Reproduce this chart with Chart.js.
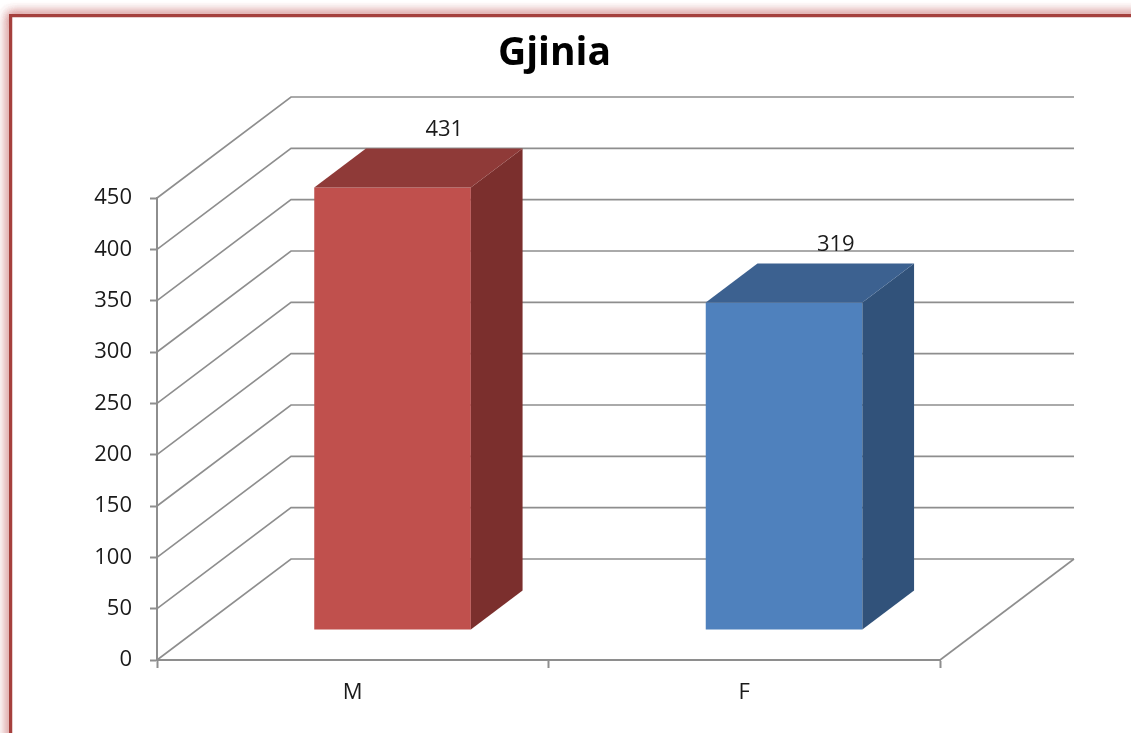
<!DOCTYPE html>
<html>
<head>
<meta charset="utf-8">
<title>Gjinia</title>
<script src="https://cdn.jsdelivr.net/npm/chart.js@4.4.0/dist/chart.umd.min.js"></script>
<style>
  html, body { margin: 0; padding: 0; background: #fff; overflow: hidden; }
  canvas { display: block; }
</style>
</head>
<body>
<canvas id="gjiniaChart" width="1131" height="733"></canvas>
<script>
var categories = ['M', 'F'];
var counts = [431, 319];
var yMin = 0;
var yMax = 450;
var yStep = 50;

var frontColors = ['#C0504D', '#4F81BD'];
var topColors = ['#8F3A38', '#3C6190'];
var sideColors = ['#7B2F2D', '#31527A'];
var gridColor = '#8e8e8e';

// 3d look: depth of the floor and where the bars sit inside it
var depth = { x: 134, y: -101 };
var barFront = 0.297;
var barBack = 0.683;

// red picture frame around the chart, with a soft pink glow outside
var framePlugin = {
    id: 'frame',
    beforeDraw: function (chart) {
        var ctx = chart.ctx;
        ctx.save();
        ctx.strokeStyle = '#A5403D';
        ctx.lineWidth = 4;
        ctx.shadowColor = 'rgba(205, 120, 120, 0.85)';
        ctx.shadowBlur = 11;
        for (var k = 0; k < 3; k++) {
            ctx.strokeRect(11, 16, 1300, 900);
        }
        ctx.shadowBlur = 0;
        ctx.shadowColor = 'transparent';
        ctx.fillStyle = '#fff';
        ctx.fillRect(12, 17, 1300, 900);
        ctx.lineWidth = 2.5;
        ctx.strokeRect(11, 16, 1300, 900);
        ctx.restore();
    }
};

var box3dPlugin = {
    id: 'box3d',
    beforeDatasetsDraw: function (chart) {
        var ctx = chart.ctx;
        var area = chart.chartArea;
        var yScale = chart.scales.y;
        ctx.save();
        ctx.strokeStyle = gridColor;
        ctx.lineWidth = 1.6;
        for (var v = yMin; v <= yMax; v += yStep) {
            var yf = yScale.getPixelForValue(v);
            ctx.beginPath();
            ctx.moveTo(area.left, yf);
            ctx.lineTo(area.left + depth.x, yf + depth.y);
            ctx.lineTo(area.right + depth.x, yf + depth.y);
            ctx.stroke();
        }
        var y0 = yScale.getPixelForValue(0);
        ctx.beginPath();
        ctx.moveTo(area.right, y0);
        ctx.lineTo(area.right + depth.x, y0 + depth.y);
        ctx.stroke();
        ctx.restore();

        // front faces are drawn by chart.js, pushed back into the floor
        ctx.save();
        ctx.translate(depth.x * barFront, depth.y * barFront);
    },
    afterDatasetsDraw: function (chart) {
        var ctx = chart.ctx;
        ctx.restore();
        var ox = depth.x * barFront, oy = depth.y * barFront;
        var bx = depth.x * (barBack - barFront), by = depth.y * (barBack - barFront);
        var meta = chart.getDatasetMeta(0);
        meta.data.forEach(function (bar, i) {
            var left = bar.x - bar.width / 2 + ox;
            var right = bar.x + bar.width / 2 + ox;
            var top = bar.y + oy;
            var bottom = bar.base + oy;

            ctx.fillStyle = sideColors[i];
            ctx.beginPath();
            ctx.moveTo(right, top);
            ctx.lineTo(right + bx, top + by);
            ctx.lineTo(right + bx, bottom + by);
            ctx.lineTo(right, bottom);
            ctx.closePath();
            ctx.fill();

            ctx.fillStyle = topColors[i];
            ctx.beginPath();
            ctx.moveTo(left, top);
            ctx.lineTo(left + bx, top + by);
            ctx.lineTo(right + bx, top + by);
            ctx.lineTo(right, top);
            ctx.closePath();
            ctx.fill();

            ctx.fillStyle = '#1a1a1a';
            ctx.font = '22px "Open Sans"';
            ctx.textAlign = 'center';
            ctx.textBaseline = 'alphabetic';
            ctx.fillText(String(counts[i]), (left + right) / 2 + bx, top + by - 13);
        });
    }
};

var ctx = document.getElementById('gjiniaChart').getContext('2d');
var gjiniaChart = new Chart(ctx, {
    type: 'bar',
    data: {
        labels: categories,
        datasets: [{
            label: 'Gjinia',
            data: counts,
            backgroundColor: frontColors,
            borderWidth: 0,
            barPercentage: 0.4,
            categoryPercentage: 1
        }]
    },
    options: {
        responsive: false,
        animation: false,
        devicePixelRatio: 1,
        layout: {
            padding: { top: 10, right: 22, bottom: 0, left: 0 }
        },
        plugins: {
            legend: { display: false },
            tooltip: { enabled: false },
            title: {
                display: true,
                text: 'Gjinia',
                color: '#000',
                font: { family: '"Open Sans"', size: 39, weight: 'bold', lineHeight: 1.2 },
                padding: { top: 20.6, bottom: 120.6 }
            }
        },
        scales: {
            x: {
                grid: {
                    display: true,
                    offset: true,
                    drawOnChartArea: false,
                    drawTicks: true,
                    tickLength: 8,
                    tickWidth: 2,
                    tickColor: gridColor
                },
                border: { display: true, color: gridColor, width: 2 },
                ticks: {
                    color: '#1a1a1a',
                    padding: 12,
                    font: { family: '"Open Sans"', size: 22 }
                },
                afterFit: function (scale) { scale.height = 73; }
            },
            y: {
                min: yMin,
                max: yMax,
                grid: {
                    display: true,
                    drawOnChartArea: false,
                    drawTicks: true,
                    tickLength: 7,
                    tickWidth: 2,
                    tickColor: gridColor
                },
                border: { display: true, color: gridColor, width: 2 },
                ticks: {
                    stepSize: yStep,
                    color: '#1a1a1a',
                    padding: 18,
                    font: { family: '"Open Sans"', size: 22 }
                },
                afterFit: function (scale) { scale.width = 157; }
            },
            // empty right axis: keeps room for the 3d depth on the right
            depthRoom: {
                type: 'linear',
                position: 'right',
                grid: { display: false },
                border: { display: false },
                ticks: { display: false },
                afterFit: function (scale) { scale.width = 169; }
            }
        }
    },
    plugins: [framePlugin, box3dPlugin]
});
</script>
</body>
</html>
